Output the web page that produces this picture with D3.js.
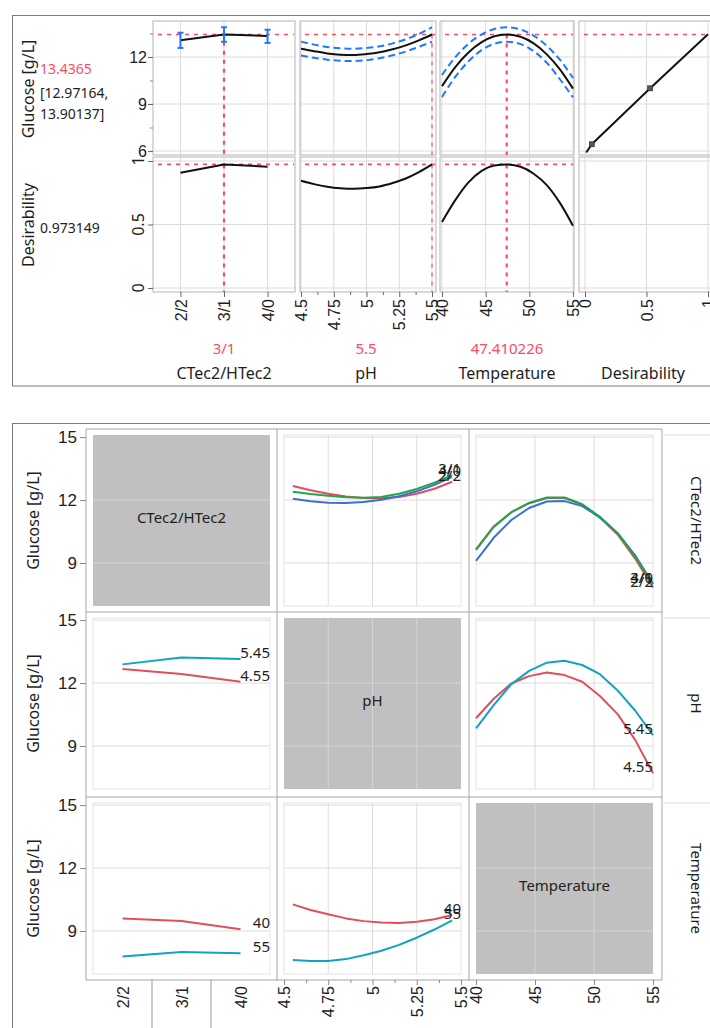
<!DOCTYPE html>
<html><head><meta charset="utf-8">
<script src="https://cdn.jsdelivr.net/npm/d3@7"></script>
<style>body{margin:0;background:#fff;} svg{display:block;font-family:"Noto Sans","Open Sans",sans-serif;}</style>
</head><body><svg id="c" width="710" height="1028"></svg>
<script>
// ---------------- DATA ----------------
const ctecLevels = ["2/2","3/1","4/0"];
const phTicks = [4.5,4.75,5,5.25,5.5];
const phMinor = [4.625,4.875,5.125,5.375];
const tempTicks = [40,45,50,55];
const desTicks = [0,0.5,1];
const glucTopTicks = [6,9,12];
const glucTopMinor = [7.5,10.5,13.5];
const glucBotTicks = [9,12,15];

// current profiler settings
const curCtec = "3/1";
const curPh = 5.5;
const curTemp = 47.410226;
const curGlucose = 13.4365;
const curLow = 12.97164;
const curHigh = 13.90137;
const curDes = 0.973149;

// profiler: CTec2/HTec2
const profCtecGlucose = [13.07, 13.4365, 13.34];
const profCtecLower = [12.58, 12.97164, 12.90];
const profCtecUpper = [13.55, 13.90137, 13.74];
const profCtecDes = [0.908, 0.973149, 0.955];
// profiler: pH
const profPh = [4.5,4.6,4.7,4.8,4.9,5.0,5.1,5.2,5.3,5.4,5.5];
const profPhGlucose = [12.53,12.37,12.23,12.15,12.13,12.19,12.30,12.49,12.74,13.06,13.4365];
const profPhUpper = [12.98,12.79,12.64,12.56,12.53,12.58,12.68,12.87,13.13,13.47,13.90137];
const profPhLower = [12.09,11.95,11.83,11.76,11.74,11.80,11.92,12.11,12.35,12.65,12.97164];
const profPhDes = [0.845,0.818,0.798,0.786,0.782,0.787,0.800,0.827,0.862,0.912,0.973149];
// profiler: Temperature
const profTemp = [40,41.5,43,44.5,46,47.41,49,50.5,52,53.5,55];
const profTempGlucose = [10.14,11.34,12.27,12.93,13.32,13.4365,13.29,12.87,12.17,11.21,9.98];
const profTempUpper = [10.85,11.97,12.83,13.43,13.79,13.90137,13.76,13.36,12.71,11.83,10.66];
const profTempLower = [9.45,10.71,11.70,12.42,12.85,12.97164,12.82,12.37,11.63,10.58,9.42];
const profTempDes = [0.52,0.69,0.83,0.92,0.965,0.973149,0.955,0.90,0.81,0.67,0.49];
// desirability function
const desFnDes = [0.01,0.055,0.53,1.0];
const desFnGlucose = [5.9,6.43,10.0,13.45];
const desMarkDes = [0.055,0.53];
const desMarkGlucose = [6.43,10.0];

// interaction profiles
const intPh = [4.55,4.65,4.75,4.85,4.95,5.05,5.15,5.25,5.35,5.45];
const intTemp = [40,41.5,43,44.5,46,47.5,49,50.5,52,53.5,55];
// glucose vs pH by CTec2/HTec2
const phByCtec22 = [12.67,12.47,12.30,12.17,12.10,12.08,12.14,12.30,12.54,12.87];
const phByCtec31 = [12.40,12.29,12.20,12.13,12.11,12.15,12.30,12.53,12.83,13.19];
const phByCtec40 = [12.06,11.94,11.87,11.86,11.91,12.01,12.18,12.42,12.73,13.11];
// glucose vs Temperature by CTec2/HTec2
const tempByCtec22 = [9.65,10.74,11.42,11.85,12.10,12.10,11.78,11.17,10.36,9.20,7.83];
const tempByCtec31 = [9.62,10.72,11.42,11.86,12.12,12.12,11.80,11.20,10.42,9.30,8.02];
const tempByCtec40 = [9.10,10.20,11.05,11.62,11.93,11.95,11.71,11.17,10.42,9.35,7.98];
// glucose vs CTec2/HTec2 by pH
const ctecByPh455 = [12.67,12.43,12.06];
const ctecByPh545 = [12.89,13.22,13.14];
// glucose vs Temperature by pH
const tempByPh455 = [10.32,11.25,11.98,12.33,12.50,12.38,12.06,11.38,10.52,9.28,7.70];
const tempByPh545 = [9.84,10.95,11.95,12.58,12.97,13.06,12.86,12.42,11.65,10.68,9.52];
// glucose vs CTec2/HTec2 by Temperature
const ctecByTemp40 = [9.59,9.48,9.08];
const ctecByTemp55 = [7.78,8.00,7.94];
// glucose vs pH by Temperature
const phByTemp40 = [10.27,10.00,9.80,9.60,9.47,9.40,9.38,9.44,9.56,9.76];
const phByTemp55 = [7.62,7.57,7.57,7.66,7.84,8.06,8.34,8.68,9.07,9.51];

// ---------------- STYLE ----------------
const TXT="#1e1e1e", GRID="#dcdcdc", CELL="#b4b4b4", PINK="#ff4a63", CIB="#1f78ff";
const RED="#df4f5c", GREEN="#1ea648", BLUE="#3b6fd8", CYAN="#13a2c2";
const svg = d3.select("#c");
let clipId = 0;
function clip(x0,y0,x1,y1){
  const id="cl"+(clipId++);
  svg.append("clipPath").attr("id",id).append("rect").attr("x",x0).attr("y",y0).attr("width",x1-x0).attr("height",y1-y0);
  return "url(#"+id+")";
}
function hline(g,x0,x1,y,col,w,dash){
  const l=g.append("line").attr("x1",x0).attr("x2",x1).attr("y1",y).attr("y2",y).attr("stroke",col).attr("stroke-width",w||1);
  if(dash) l.attr("stroke-dasharray",dash); return l;
}
function vline(g,x,y0,y1,col,w,dash){
  const l=g.append("line").attr("x1",x).attr("x2",x).attr("y1",y0).attr("y2",y1).attr("stroke",col).attr("stroke-width",w||1);
  if(dash) l.attr("stroke-dasharray",dash); return l;
}
function text(g,x,y,s,opt){
  opt=opt||{};
  const t=g.append("text").attr("x",x).attr("y",y).text(s)
    .attr("font-size",opt.size||15).attr("fill",opt.color||TXT)
    .attr("text-anchor",opt.anchor||"start").attr("dominant-baseline",opt.base||"central");
  if(opt.rot!==undefined) t.attr("transform","rotate("+opt.rot+","+x+","+y+")");
  return t;
}
function drawLine(g,xs,ys,xsc,ysc,col,w,dash,cp,curve){
  const ln=d3.line().x((d,i)=>xsc(xs[i])).y(d=>ysc(d)).curve(curve||d3.curveLinear);
  const p=g.append("path").attr("d",ln(ys)).attr("fill","none").attr("stroke",col).attr("stroke-width",w)
    .attr("stroke-linejoin","round");
  if(dash) p.attr("stroke-dasharray",dash);
  if(cp) p.attr("clip-path",cp);
  return p;
}
const fmt = d3.format("");

// ================= TOP: PREDICTION PROFILER =================
const gTop = svg.append("g");
gTop.append("rect").attr("x",12.5).attr("y",15.5).attr("width",720).attr("height",370.5).attr("fill","none").attr("stroke","#7a7a7a");

const tCols=[[153,295],[300,436],[440,574],[579,730]];
const tRows=[[21,155],[157,292]];
const xCt = d3.scalePoint().domain(ctecLevels).range(tCols[0]).padding(0.63);
const xPhT = d3.scaleLinear().domain([4.5,5.5]).range([301,432]);
const xTeT = d3.scaleLinear().domain([40,55]).range([442,573]);
const xDeT = d3.scaleLinear().domain([0,1]).range([585,708]);
const yGlT = d3.scaleLinear().domain([6,12]).range([151,57]);
const yDeT = d3.scaleLinear().domain([0,1]).range([288,161]);
const tX=[ [ctecLevels,xCt], [phTicks,xPhT], [tempTicks,xTeT], [desTicks,xDeT] ];
const tY=[ [glucTopTicks,yGlT], [desTicks,yDeT] ];

tRows.forEach((r,ri)=>{
  tCols.forEach((c,ci)=>{
    const g=gTop.append("g");
    tX[ci][0].forEach(v=>vline(g,tX[ci][1](v),r[0],r[1],GRID));
    tY[ri][0].forEach(v=>hline(g,c[0],c[1],tY[ri][1](v),GRID));
    g.append("rect").attr("x",c[0]).attr("y",r[0]).attr("width",c[1]-c[0]).attr("height",r[1]-r[0])
      .attr("fill","none").attr("stroke",CELL);
  });
});

const ax1 = gTop.append("g").attr("transform","translate(153,0)")
  .call(d3.axisLeft(yGlT).tickValues(glucTopTicks).tickSize(5).tickPadding(1).tickFormat(fmt));
ax1.select(".domain").remove();
ax1.selectAll("text").attr("font-size",16).attr("fill",TXT).attr("font-family",null);
ax1.selectAll("line").attr("stroke","#666");
const ax1m = gTop.append("g").attr("transform","translate(153,0)")
  .call(d3.axisLeft(yGlT).tickValues(glucTopMinor).tickSize(3).tickFormat(""));
ax1m.select(".domain").remove(); ax1m.selectAll("line").attr("stroke","#888");
const ax2 = gTop.append("g").attr("transform","translate(153,0)")
  .call(d3.axisLeft(yDeT).tickValues(desTicks).tickSize(5).tickFormat(""));
ax2.select(".domain").remove(); ax2.selectAll("line").attr("stroke","#666");
desTicks.forEach(v=>text(gTop,138,yDeT(v),fmt(v),{size:16,anchor:"middle",rot:-90}));

function rotAxis(g){
  g.select(".domain").remove();
  g.selectAll("line").attr("stroke","#666");
  g.selectAll("text").attr("font-size",16).attr("fill",TXT).attr("font-family",null)
    .attr("transform","rotate(-90)").attr("text-anchor","end").attr("x",-7).attr("y",0).attr("dy","0.35em");
}
gTop.append("g").attr("transform","translate(0,292)").call(d3.axisBottom(xCt).tickSize(5)).call(rotAxis);
gTop.append("g").attr("transform","translate(0,292)").call(d3.axisBottom(xPhT).tickValues(phTicks).tickSize(5).tickFormat(fmt)).call(rotAxis);
gTop.append("g").attr("transform","translate(0,292)").call(d3.axisBottom(xPhT).tickValues(phMinor).tickSize(3).tickFormat("")).call(rotAxis);
gTop.append("g").attr("transform","translate(0,292)").call(d3.axisBottom(xTeT).tickValues(tempTicks).tickSize(5).tickFormat(fmt)).call(rotAxis);
gTop.append("g").attr("transform","translate(0,292)").call(d3.axisBottom(xDeT).tickValues(desTicks).tickSize(5).tickFormat(fmt)).call(rotAxis);

const RD="4,5";
[0,1,2,3].forEach(ci=>hline(gTop,tCols[ci][0]+5,Math.min(tCols[ci][1]-1,712),yGlT(curGlucose),PINK,1.6,RD));
[0,1,2].forEach(ci=>hline(gTop,tCols[ci][0]+5,tCols[ci][1]-1,yDeT(curDes),PINK,1.6,RD));
vline(gTop,xCt(curCtec),yGlT(curLow),tRows[0][1],PINK,2.2,RD);
vline(gTop,xCt(curCtec),yDeT(curDes),tRows[1][1],PINK,2.2,RD);
vline(gTop,xPhT(curPh),yGlT(curGlucose),tRows[0][1],PINK,1.2,RD);
vline(gTop,xPhT(curPh),yDeT(curDes),tRows[1][1],PINK,1.2,RD);
vline(gTop,xTeT(curTemp),yGlT(curGlucose),tRows[0][1],PINK,2.2,RD);
vline(gTop,xTeT(curTemp),yDeT(curDes),tRows[1][1],PINK,2.2,RD);

drawLine(gTop,ctecLevels,profCtecGlucose,xCt,yGlT,"#111",2);
drawLine(gTop,ctecLevels,profCtecDes,xCt,yDeT,"#111",2);
ctecLevels.forEach((lv,i)=>{
  const x=xCt(lv), y0=yGlT(profCtecLower[i]), y1=yGlT(profCtecUpper[i]);
  vline(gTop,x,y0,y1,CIB,2);
  hline(gTop,x-3,x+3,y0,CIB,2); hline(gTop,x-3,x+3,y1,CIB,2);
});
const SM=d3.curveMonotoneX;
drawLine(gTop,profPh,profPhUpper,xPhT,yGlT,CIB,2,"7,4",null,SM);
drawLine(gTop,profPh,profPhLower,xPhT,yGlT,CIB,2,"7,4",null,SM);
drawLine(gTop,profPh,profPhGlucose,xPhT,yGlT,"#111",2,null,null,SM);
drawLine(gTop,profPh,profPhDes,xPhT,yDeT,"#111",2,null,null,SM);
drawLine(gTop,profTemp,profTempUpper,xTeT,yGlT,CIB,2,"7,4",null,SM);
drawLine(gTop,profTemp,profTempLower,xTeT,yGlT,CIB,2,"7,4",null,SM);
drawLine(gTop,profTemp,profTempGlucose,xTeT,yGlT,"#111",2,null,null,SM);
drawLine(gTop,profTemp,profTempDes,xTeT,yDeT,"#111",2,null,null,SM);
const cp4=clip(tCols[3][0],tRows[0][0],710,tRows[0][1]);
drawLine(gTop,desFnDes,desFnGlucose,xDeT,yGlT,"#111",2,null,cp4);
desMarkDes.forEach((d,i)=>gTop.append("rect").attr("x",xDeT(d)-2.5).attr("y",yGlT(desMarkGlucose[i])-2.5)
  .attr("width",5).attr("height",5).attr("fill","#555").attr("stroke","#222").attr("stroke-width",0.6));

text(gTop,28,89,"Glucose [g/L]",{size:16,anchor:"middle",rot:-90});
text(gTop,40,68,String(curGlucose),{size:14,color:PINK});
text(gTop,40,92,"["+curLow+",",{size:14});
text(gTop,40,113,curHigh+"]",{size:14});
text(gTop,28,225,"Desirability",{size:16,anchor:"middle",rot:-90});
text(gTop,40,227,String(curDes),{size:14});

text(gTop,xCt(curCtec),348,curCtec,{size:15,color:PINK,anchor:"middle"});
text(gTop,366,348,String(curPh),{size:15,color:PINK,anchor:"middle"});
text(gTop,507,348,String(curTemp),{size:15,color:PINK,anchor:"middle"});
text(gTop,224,373,"CTec2/HTec2",{size:16,anchor:"middle"});
text(gTop,366,373,"pH",{size:16,anchor:"middle"});
text(gTop,507,373,"Temperature",{size:16,anchor:"middle"});
text(gTop,643,373,"Desirability",{size:16,anchor:"middle"});

// ================= BOTTOM: INTERACTION PROFILES =================
const gBot = svg.append("g");
gBot.append("rect").attr("x",12.5).attr("y",423.5).attr("width",720).attr("height",700).attr("fill","none").attr("stroke","#7a7a7a");
const mCols=[86,277,469,662], mRows=[429,612,797,980];
const IW=177, IH=171;
const varNames=["CTec2/HTec2","pH","Temperature"];
const xM=[], yM=[];
for(let c=0;c<3;c++){
  const x0=mCols[c]+7;
  if(c===0) xM.push(d3.scalePoint().domain(ctecLevels).range([x0,x0+IW]).padding(0.5));
  if(c===1) xM.push(d3.scaleLinear().domain([4.5,5.5]).range([x0,x0+IW]));
  if(c===2) xM.push(d3.scaleLinear().domain([40,55]).range([x0,x0+IW]));
}
for(let r=0;r<3;r++){
  const y0=mRows[r]+6;
  yM.push(d3.scaleLinear().domain([6.95,15.1]).range([y0+IH,y0]));
}
const xGridVals=[[],[4.75,5,5.25],[45,50]];

for(let r=0;r<3;r++){
  for(let c=0;c<3;c++){
    const x0=mCols[c]+7, y0=mRows[r]+6;
    const g=gBot.append("g");
    if(r===c){
      g.append("rect").attr("x",x0).attr("y",y0).attr("width",IW).attr("height",IH).attr("fill","#c0c0c0");
      [9,12].forEach(v=>hline(g,x0,x0+IW,yM[r](v),"#d4d4d4"));
      xGridVals[c].forEach(v=>vline(g,xM[c](v),y0,y0+IH,"#d4d4d4"));
      text(g,x0+IW/2,y0+IH/2-4,varNames[c],{size:15,anchor:"middle"});
    } else {
      glucBotTicks.forEach(v=>hline(g,x0,x0+IW,yM[r](v),GRID));
      xGridVals[c].forEach(v=>vline(g,xM[c](v),y0,y0+IH,GRID));
      g.append("rect").attr("x",x0).attr("y",y0).attr("width",IW).attr("height",IH).attr("fill","none").attr("stroke","#e4e4e4");
    }
  }
}
mCols.forEach(x=>vline(gBot,x,mRows[0],mRows[3],"#a6a6a6"));
mRows.forEach(y=>hline(gBot,mCols[0],mCols[3],y,"#a6a6a6"));
for(let r=0;r<3;r++) hline(gBot,mCols[3],712,mRows[r]+6,"#dedede");

function series(r,c,xs,list){
  const g=gBot.append("g");
  const xr=mCols[c]+7+IW;
  list.forEach(s=>drawLine(g,xs,s.v,xM[c],yM[r],s.col,2));
  list.forEach(s=>text(g,xr,yM[r](s.v[s.v.length-1])-1,s.lab,{size:15,anchor:"end",base:"auto"}));
}
series(0,1,intPh,[{v:phByCtec22,col:RED,lab:"2/2"},{v:phByCtec40,col:BLUE,lab:"4/0"},{v:phByCtec31,col:GREEN,lab:"3/1"}]);
series(0,2,intTemp,[{v:tempByCtec22,col:RED,lab:"2/2"},{v:tempByCtec40,col:BLUE,lab:"4/0"},{v:tempByCtec31,col:GREEN,lab:"3/1"}]);
series(1,0,ctecLevels,[{v:ctecByPh455,col:RED,lab:"4.55"},{v:ctecByPh545,col:CYAN,lab:"5.45"}]);
series(1,2,intTemp,[{v:tempByPh455,col:RED,lab:"4.55"},{v:tempByPh545,col:CYAN,lab:"5.45"}]);
series(2,0,ctecLevels,[{v:ctecByTemp40,col:RED,lab:"40"},{v:ctecByTemp55,col:CYAN,lab:"55"}]);
series(2,1,intPh,[{v:phByTemp40,col:RED,lab:"40"},{v:phByTemp55,col:CYAN,lab:"55"}]);

for(let r=0;r<3;r++){
  const a=gBot.append("g").attr("transform","translate("+mCols[0]+",0)")
    .call(d3.axisLeft(yM[r]).tickValues(glucBotTicks).tickSize(6).tickPadding(3).tickFormat(fmt));
  a.select(".domain").remove();
  a.selectAll("line").attr("stroke","#888");
  a.selectAll("text").attr("font-size",17).attr("fill",TXT).attr("font-family",null);
  const yc=mRows[r]+6+IH/2;
  text(gBot,33,yc,"Glucose [g/L]",{size:16,anchor:"middle",rot:-90});
  text(gBot,697,yc,varNames[r],{size:15,anchor:"middle",rot:90});
}
const yb=mRows[3];
function rotAxisB(g){
  g.select(".domain").remove();
  g.selectAll("line").attr("stroke","#888");
  g.selectAll("text").attr("font-size",16).attr("fill",TXT).attr("font-family",null)
    .attr("transform","rotate(-90)").attr("text-anchor","end").attr("x",-6).attr("y",0).attr("dy","0.35em");
}
gBot.append("g").attr("transform","translate(0,"+yb+")").call(d3.axisBottom(xM[0]).tickSize(0)).call(rotAxisB);
gBot.append("g").attr("transform","translate(0,"+yb+")").call(d3.axisBottom(xM[1]).tickValues(phTicks).tickSize(5).tickFormat(fmt)).call(rotAxisB);
gBot.append("g").attr("transform","translate(0,"+yb+")").call(d3.axisBottom(xM[1]).tickValues(phMinor).tickSize(3).tickFormat("")).call(rotAxisB);
gBot.append("g").attr("transform","translate(0,"+yb+")").call(d3.axisBottom(xM[2]).tickValues(tempTicks).tickSize(5).tickFormat(fmt)).call(rotAxisB);
const stepC=xM[0].step();
[1,2].forEach(i=>vline(gBot,xM[0](ctecLevels[i])-stepC/2,yb,1028,"#999"));
</script></body></html>
